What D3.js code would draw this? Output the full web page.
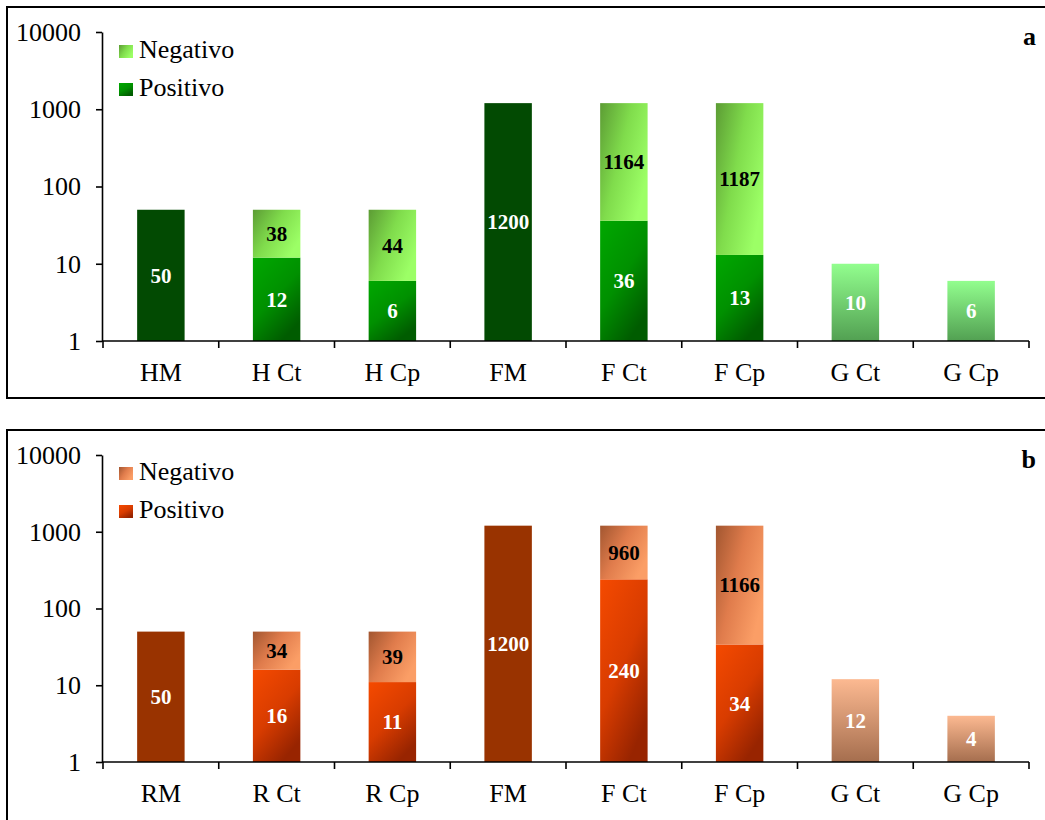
<!DOCTYPE html>
<html>
<head>
<meta charset="utf-8">
<script src="https://cdn.jsdelivr.net/npm/d3@7/dist/d3.min.js"></script>
<style>
  html, body { margin: 0; padding: 0; background: #fff; overflow: hidden; }
  svg { display: block; font-family: "Liberation Serif", "Times New Roman", serif; }
</style>
</head>
<body>
<script>
// ---- data: panel a (green) ----
const categoriesA = ["HM", "H Ct", "H Cp", "FM", "F Ct", "F Cp", "G Ct", "G Cp"];
const totalA     = [50, null, null, 1200, null, null, null, null];
const positivoA  = [null, 12, 6, null, 36, 13, null, null];
const negativoA  = [null, 38, 44, null, 1164, 1187, null, null];
const singleA    = [null, null, null, null, null, null, 10, 6];

// ---- data: panel b (orange) ----
const categoriesB = ["RM", "R Ct", "R Cp", "FM", "F Ct", "F Cp", "G Ct", "G Cp"];
const totalB     = [50, null, null, 1200, null, null, null, null];
const positivoB  = [null, 16, 11, null, 240, 34, null, null];
const negativoB  = [null, 34, 39, null, 960, 1166, null, null];
const singleB    = [null, null, null, null, null, null, 12, 4];

const yTicks = [1, 10, 100, 1000, 10000];
const legendLabels = ["Negativo", "Positivo"];

const W = 1045, H = 820;
const svg = d3.select("body").append("svg").attr("width", W).attr("height", H);
const defs = svg.append("defs");

function grad(id, x2, y2, stops) {
  const g = defs.append("linearGradient").attr("id", id)
    .attr("x1", 0).attr("y1", 0).attr("x2", x2).attr("y2", y2);
  stops.forEach(([o, c]) => g.append("stop").attr("offset", o).attr("stop-color", c));
}

// green palette
grad("gPos", 0.6, 1, [[0, "#00a800"], [0.55, "#009000"], [1, "#005c00"]]);
grad("gNeg", 1, 0.6, [[0, "#5c9c34"], [0.5, "#80dc4c"], [1, "#9cff66"]]);
grad("gSingle", 0, 1, [[0, "#92fe8e"], [1, "#52a052"]]);
// orange palette
grad("oPos", 0.6, 1, [[0, "#f54a00"], [0.55, "#d83c00"], [1, "#982400"]]);
grad("oNeg", 1, 0.6, [[0, "#a25630"], [0.5, "#e07c4c"], [1, "#fb9e66"]]);
grad("oSingle", 0, 1, [[0, "#fcb991"], [1, "#a56e4e"]]);

function drawPanel(cfg) {
  const g = svg.append("g");

  // frame (runs past the right / bottom page edge)
  g.append("rect")
    .attr("x", cfg.frame[0]).attr("y", cfg.frame[1])
    .attr("width", cfg.frame[2]).attr("height", cfg.frame[3])
    .attr("fill", "none").attr("stroke", "#000").attr("stroke-width", 2);

  const y = d3.scaleLog().domain([1, 10000]).range([cfg.bottom, cfg.top]);
  const x = d3.scaleBand().domain(cfg.categories).range([103, 1029])
    .paddingInner(0.59).paddingOuter(0.295);

  const rows = cfg.categories.map((c, i) => ({
    cat: c, total: cfg.total[i], pos: cfg.pos[i], neg: cfg.neg[i], single: cfg.single[i]
  }));

  const segs = [];
  rows.forEach(r => {
    if (r.total != null) segs.push({cat: r.cat, lo: 1, hi: r.total, v: r.total, fill: cfg.totalColor, txt: "#fff"});
    if (r.pos != null) segs.push({cat: r.cat, lo: 1, hi: r.pos, v: r.pos, fill: `url(#${cfg.pre}Pos)`, txt: "#fff"});
    if (r.neg != null) segs.push({cat: r.cat, lo: r.pos || 1, hi: (r.pos || 0) + r.neg, v: r.neg, fill: `url(#${cfg.pre}Neg)`, txt: "#000"});
    if (r.single != null) segs.push({cat: r.cat, lo: 1, hi: r.single, v: r.single, fill: `url(#${cfg.pre}Single)`, txt: "#fff"});
  });

  g.selectAll("rect.bar").data(segs).enter().append("rect")
    .attr("class", "bar")
    .attr("x", d => x(d.cat))
    .attr("width", x.bandwidth())
    .attr("y", d => y(d.hi))
    .attr("height", d => y(d.lo) - y(d.hi))
    .attr("fill", d => d.fill);

  g.selectAll("text.val").data(segs).enter().append("text")
    .attr("class", "val")
    .attr("x", d => x(d.cat) + x.bandwidth() / 2)
    .attr("y", d => y(Math.sqrt(d.lo * d.hi)))
    .attr("dy", "0.35em")
    .attr("text-anchor", "middle")
    .attr("font-size", 21).attr("font-weight", "bold")
    .attr("fill", d => d.txt)
    .text(d => d.v);

  // y axis
  const ya = g.append("g").attr("transform", "translate(102,0)")
    .call(d3.axisLeft(y).tickValues(yTicks).tickFormat(d3.format("d"))
      .tickSize(6).tickSizeOuter(0).tickPadding(15));
  ya.selectAll("text").attr("font-size", 26).attr("fill", "#000")
    .attr("font-family", "Liberation Serif, Times New Roman, serif");
  ya.selectAll("line, path").attr("stroke", "#000").attr("stroke-width", 1.6);

  // x axis
  const xa = g.append("g").attr("transform", `translate(0,${cfg.bottom})`)
    .call(d3.axisBottom(x).tickSize(0).tickSizeOuter(0).tickPadding(22));
  xa.select("path").attr("stroke", "#000").attr("stroke-width", 1.6)
    .attr("d", `M102,0H1029`);
  xa.selectAll("text").attr("font-size", 26).attr("fill", "#000")
    .attr("font-family", "Liberation Serif, Times New Roman, serif");
  const bounds = cfg.categories.map(c => x(c) - x.step() * x.paddingInner() / 2)
    .concat([x.range()[1]]);
  xa.selectAll("line.bt").data(bounds).enter().append("line")
    .attr("class", "bt")
    .attr("x1", d => d).attr("x2", d => d)
    .attr("y1", 0).attr("y2", 7)
    .attr("stroke", "#000").attr("stroke-width", 1.6);

  // legend
  const leg = g.append("g");
  legendLabels.forEach((lab, i) => {
    const by = cfg.legendY[i];
    leg.append("rect").attr("x", 119).attr("y", by - 13).attr("width", 14).attr("height", 13)
      .attr("fill", i === 0 ? `url(#${cfg.pre}Neg)` : `url(#${cfg.pre}Pos)`);
    leg.append("text").attr("x", 139).attr("y", by).attr("font-size", 26)
      .attr("fill", "#000").text(lab);
  });

  // panel letter
  g.append("text").attr("x", 1036).attr("y", cfg.letterY)
    .attr("text-anchor", "end").attr("font-size", 26).attr("font-weight", "bold")
    .text(cfg.letter);
}

drawPanel({
  categories: categoriesA, total: totalA, pos: positivoA, neg: negativoA, single: singleA,
  pre: "g", totalColor: "#024a02", top: 32, bottom: 341,
  frame: [7, 7, 1060, 391], legendY: [58, 96], letter: "a", letterY: 45
});

drawPanel({
  categories: categoriesB, total: totalB, pos: positivoB, neg: negativoB, single: singleB,
  pre: "o", totalColor: "#993300", top: 455, bottom: 762,
  frame: [7, 430, 1060, 420], legendY: [480, 518], letter: "b", letterY: 468
});
</script>
</body>
</html>
